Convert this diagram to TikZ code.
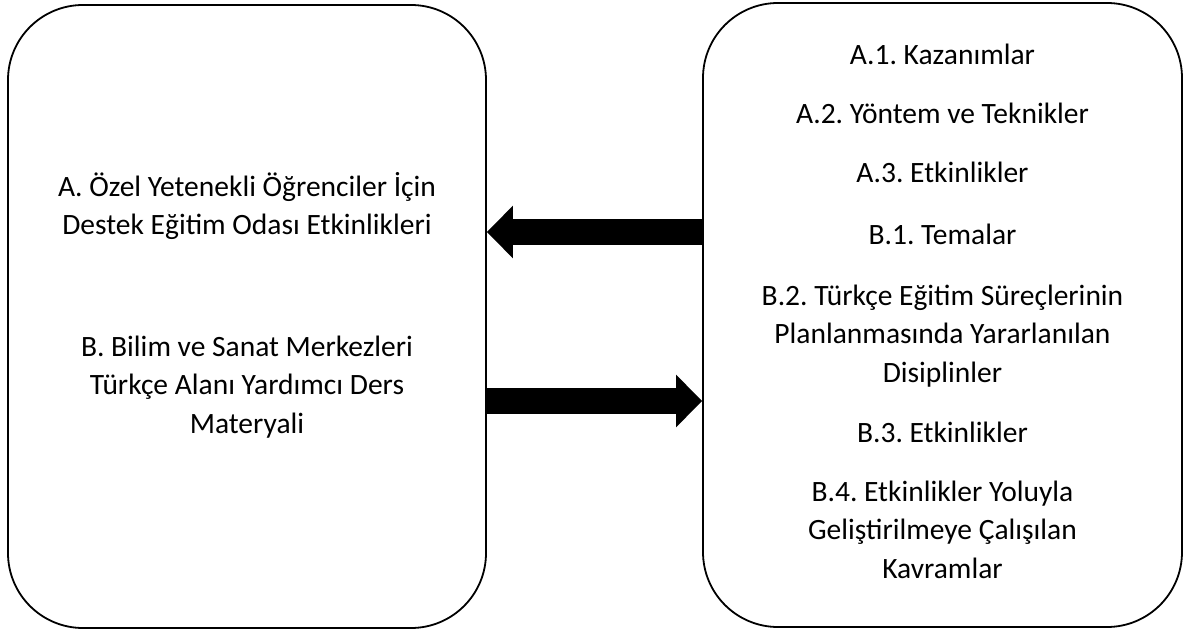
\documentclass[tikz,border=0pt]{standalone}
\usepackage{fontspec}
\setmainfont{Carlito}
\frenchspacing
\usetikzlibrary{arrows.meta}
\begin{document}
\begin{tikzpicture}[x=1pt,y=-1pt,
  panel/.style={draw=black, line width=1.8pt, rounded corners=75pt, inner sep=0pt},
  txt/.style={font=\fontsize{29.5}{38.5}\selectfont, align=center, inner sep=0pt, anchor=base},
  blockarrow/.style={line width=26pt, -{Triangle[length=26pt,width=51pt]}}]
\useasboundingbox (0,0) rectangle (1184,631);
\node[panel, minimum width=478pt, minimum height=623pt] (L) at (247,316.5) {};
\node[panel, minimum width=479pt, minimum height=624pt] (R) at (942.5,315) {};
% left texts (anchored at the baseline of their last line)
\node[txt] (ta) at (247,235) {A. Özel Yetenekli Öğrenciler İçin\\Destek Eğitim Odası Etkinlikleri};
\node[txt] (tb) at (247,433) {B. Bilim ve Sanat Merkezleri\\Türkçe Alanı Yardımcı Ders\\Materyali};
% right texts
\node[txt] (a1) at (942.5,65) {A.1. Kazanımlar};
\node[txt] (a2) at (942.5,124) {A.2. Yöntem ve Teknikler};
\node[txt] (a3) at (942.5,183) {A.3. Etkinlikler};
\node[txt] (b1) at (942.5,245) {B.1. Temalar};
\node[txt] (b2) at (942.5,382) {B.2. Türkçe Eğitim Süreçlerinin\\Planlanmasında Yararlanılan\\Disiplinler};
\node[txt] (b3) at (942.5,442) {B.3. Etkinlikler};
\node[txt] (b4) at (942.5,578) {B.4. Etkinlikler Yoluyla\\Geliştirilmeye Çalışılan\\Kavramlar};
% arrows
\coordinate (y1) at (0,232);
\coordinate (y2) at (0,401);
\draw[blockarrow] (R.west |- y1) -- (L.east |- y1);
\draw[blockarrow] (L.east |- y2) -- (R.west |- y2);
\end{tikzpicture}
\end{document}
